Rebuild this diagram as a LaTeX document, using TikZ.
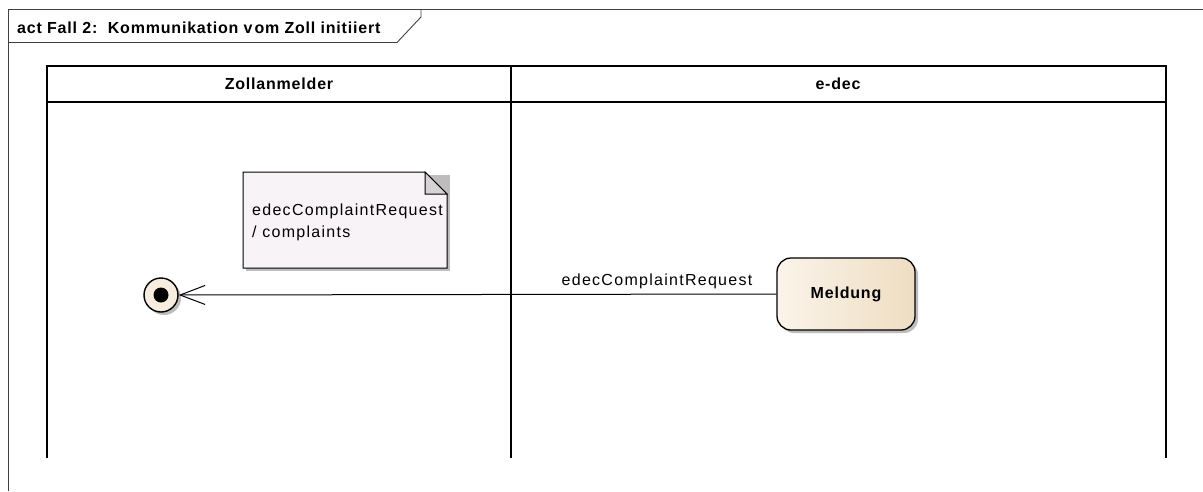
\documentclass[tikz,border=0pt]{standalone}
\usepackage{fontspec}
\setmainfont{Liberation Sans}[LetterSpace=8, BoldFeatures={LetterSpace=5}]
\usetikzlibrary{arrows.meta,shadows}
\definecolor{frameline}{HTML}{404040}
\definecolor{notefill}{HTML}{F7F3F7}
\definecolor{foldfill}{HTML}{D6D2D6}
\definecolor{shadowgray}{HTML}{BDBDBD}
\definecolor{meldL}{HTML}{FBF4EA}
\definecolor{meldR}{HTML}{EEDDC2}
\definecolor{circfill}{HTML}{F6EDDF}
\tikzset{
  txt/.style={inner sep=0pt, font=\fontsize{16}{22}\selectfont},
  boldtxt/.style={txt, font=\fontsize{16}{22}\selectfont\bfseries},
  laneline/.style={line width=2pt, black},
  frameedge/.style={line width=0.9pt, frameline},
  shade3/.style={drop shadow={shadow xshift=3pt, shadow yshift=-3pt, fill=shadowgray, opacity=1}},
  actionbox/.style={rectangle, rounded corners=14pt, draw=black, line width=1.3pt,
    left color=meldL, right color=meldR, minimum width=138pt, minimum height=72pt,
    inner sep=0pt, font=\fontsize{16}{22}\selectfont\bfseries, shade3},
  finalnode/.style={circle, draw=black, line width=1.4pt, fill=circfill,
    minimum size=34pt, inner sep=0pt, shade3},
  flow/.style={line width=1pt, black, -{Straight Barb[length=25pt, width=19pt, line width=1pt]}},
}
\begin{document}
\begin{tikzpicture}[x=1pt, y=-1pt]
\useasboundingbox (0,0) rectangle (1203,491);
% frame
\draw[frameedge] (8,491) -- (8,9) -- (1203,9);
\draw[frameedge] (8,42.5) -- (397,42.5) -- (421,17) -- (421,9);
\node[boldtxt, anchor=base west] (title) at (17,33) {act Fall 2:\ \ Kommunikation v\kern2pt om Zoll initiiert};
% swimlanes
\draw[laneline] (47,458) -- (47,66) -- (1166,66) -- (1166,458);
\draw[laneline] (47,101.5) -- (1166,101.5);
\draw[laneline] (511,66) -- (511,458);
\node[boldtxt, anchor=base] (lane1) at (279,89.5) {Zollanmelder};
\node[boldtxt, anchor=base] (lane2) at (838,89.5) {e-dec};
% note
\fill[shadowgray] (246,175) -- (450,175) -- (450,271) -- (246,271) -- cycle;
\filldraw[fill=notefill, draw=black, line width=1pt]
  (243,172) -- (425,172) -- (447,194) -- (447,268) -- (243,268) -- cycle;
\filldraw[fill=foldfill, draw=black, line width=1pt] (425,172) -- (425,194) -- (447,194) -- cycle;
\node[txt, anchor=base west] (note) at (252,215) {edecComplaintRequest};
\node[txt, anchor=base west] (note2) at (252,237) {/ complaints};
% action and final node
\node[actionbox] (meld) at (846,294) {Meldung};
\node[finalnode] (final) at (161,295) {};
\fill[black] (final.center) circle (7.5pt);
\draw[flow] (meld.west) -- (final.east);
\node[txt, anchor=base] (flowlabel) at (657,285) {edecComplaintRequest};
\end{tikzpicture}
\end{document}
